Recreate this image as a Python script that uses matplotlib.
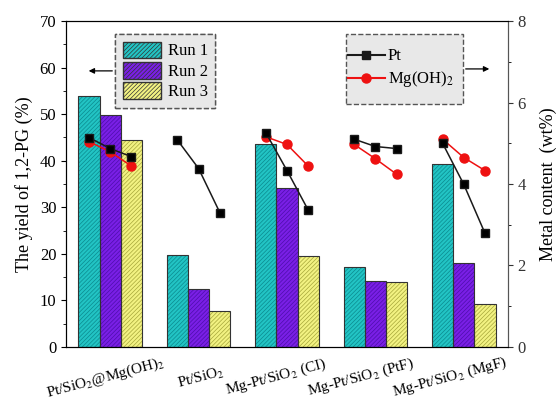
import numpy as np
import matplotlib
matplotlib.use("Agg")
import matplotlib.pyplot as plt
from matplotlib.patches import Patch, Rectangle
from matplotlib.lines import Line2D
import matplotlib.transforms as mtransforms

plt.rcParams['font.family'] = 'Liberation Serif'
plt.rcParams['mathtext.fontset'] = 'stix'
plt.rcParams['hatch.linewidth'] = 0.5

# data
catalysts = ["Pt/SiO$_2$@Mg(OH)$_2$", "Pt/SiO$_2$", "Mg-Pt/SiO$_2$ (CI)",
             "Mg-Pt/SiO$_2$ (PtF)", "Mg-Pt/SiO$_2$ (MgF)"]
run1 = [53.8, 19.8, 43.5, 17.2, 39.2]
run2 = [49.8, 12.5, 34.2, 14.2, 18.0]
run3 = [44.5, 7.8, 19.6, 13.9, 9.2]
# metal content per run (right axis), None where not measured
pt = [[5.14, 4.87, 4.67], [5.08, 4.38, 3.30], [5.26, 4.33, 3.36],
      [5.10, 4.92, 4.87], [5.00, 3.99, 2.79]]
mg = [[5.04, 4.79, 4.44], None, [5.16, 4.97, 4.44],
      [4.97, 4.62, 4.24], [5.10, 4.65, 4.33]]

runs = [run1, run2, run3]
fills = ['#22c4c4', '#7a1fe6', '#f2f282']
hatchc = ['#0b8a8e', '#4d0eaa', '#a6a63a']
names = ['Run 1', 'Run 2', 'Run 3']
hatch = '////////'

fig = plt.figure(figsize=(5.57, 4.01), dpi=100)
ax = fig.add_axes([0.1185, 0.1347, 0.7935, 0.8129])
x = np.arange(len(catalysts))
w = 0.24
for i, vals in enumerate(runs):
    pos = x + (i - 1) * w
    ax.bar(pos, vals, w, color=fills[i], edgecolor=hatchc[i], hatch=hatch,
           linewidth=0, zorder=2)
    ax.bar(pos, vals, w, facecolor='none', edgecolor='#333333',
           linewidth=0.8, zorder=3)

ax.set_xlim(-0.5, 4.5)
ax.set_ylim(0, 70)
ax.set_yticks(np.arange(0, 71, 10))
ax.set_yticks(np.arange(5, 70, 10), minor=True)
ax.set_ylabel('The yield of 1,2-PG (%)', fontsize=13, labelpad=5)
ax.set_xticks(x)
ax.set_xticklabels([])
ax.tick_params(axis='x', length=0)
ax.tick_params(axis='y', direction='out', labelsize=12)
ax.spines['right'].set_color('#555555')

# rotated category labels under each group
shift = [-5, 2, -11, -15, -14]
for k, name in enumerate(catalysts):
    tr = ax.get_xaxis_transform() + mtransforms.ScaledTranslation(
        shift[k] / 100, 0, fig.dpi_scale_trans)
    ax.text(x[k], -0.094, name, transform=tr, rotation=15,
            ha='center', va='center', fontsize=11)

ax2 = ax.twinx()
ax2.set_ylim(0, 8)
ax2.set_yticks(np.arange(0, 9, 2))
ax2.set_yticks(np.arange(1, 8, 2), minor=True)
ax2.set_ylabel('Metal content  (wt%)', fontsize=13, labelpad=10)
ax2.tick_params(axis='y', direction='out', labelsize=12, colors='#333333')
ax2.spines['right'].set_color('#555555')
for k in range(len(catalysts)):
    pos = x[k] + (np.arange(3) - 1) * w
    ax2.plot(pos, pt[k], '-s', color='#1a1a1a', markersize=5.5, lw=1.1,
             markerfacecolor='black', zorder=5)
    if mg[k] is not None:
        ax2.plot(pos, mg[k], '-o', color='#ee1111', markersize=6.5, lw=1.1,
                 zorder=4)

# legends
h1 = [Patch(facecolor=fills[i], edgecolor=hatchc[i], hatch=hatch, label=names[i])
      for i in range(3)]
leg1 = ax.legend(handles=h1, loc='upper left', bbox_to_anchor=(0.111, 0.96),
                 borderaxespad=0, fontsize=12, frameon=True, fancybox=False,
                 facecolor='#e8e8e8', edgecolor='#555555', handlelength=2.3,
                 handleheight=1.15, labelspacing=0.15, borderpad=0.45,
                 handletextpad=0.4, framealpha=1)
leg1.get_frame().set_linestyle('--')
for p in leg1.get_patches():
    p.set_edgecolor('#333333')
ax.add_artist(leg1)

# second legend: own dashed box, entries placed inside
box = Rectangle((0.6335, 0.745), 0.2645, 0.215, transform=ax.transAxes,
                facecolor='#e8e8e8', edgecolor='#555555', linestyle='--',
                linewidth=1.0, zorder=6)
ax2.add_patch(box)
h2 = [Line2D([], [], color='#1a1a1a', marker='s', markersize=5.5, label='Pt'),
      Line2D([], [], color='#ee1111', marker='o', markersize=6.5, label='Mg(OH)$_2$')]
leg2 = ax2.legend(handles=h2, loc='center left', bbox_to_anchor=(0.638, 0.853),
                  borderaxespad=0, fontsize=12, frameon=False, handlelength=2.2,
                  borderpad=0, labelspacing=0.3, handletextpad=0.2)
leg2.set_zorder(7)

# arrows pointing to the matching axis
ax.annotate('', xy=(0.045, 0.847), xycoords='axes fraction',
            xytext=(0.111, 0.847),
            arrowprops=dict(arrowstyle='-|>', color='black', lw=0.9,
                            mutation_scale=8))
ax2.annotate('', xy=(0.964, 0.853), xycoords='axes fraction',
             xytext=(0.898, 0.853),
             arrowprops=dict(arrowstyle='-|>', color='black', lw=0.9,
                             mutation_scale=8))

fig.savefig('out.png', dpi=100)
